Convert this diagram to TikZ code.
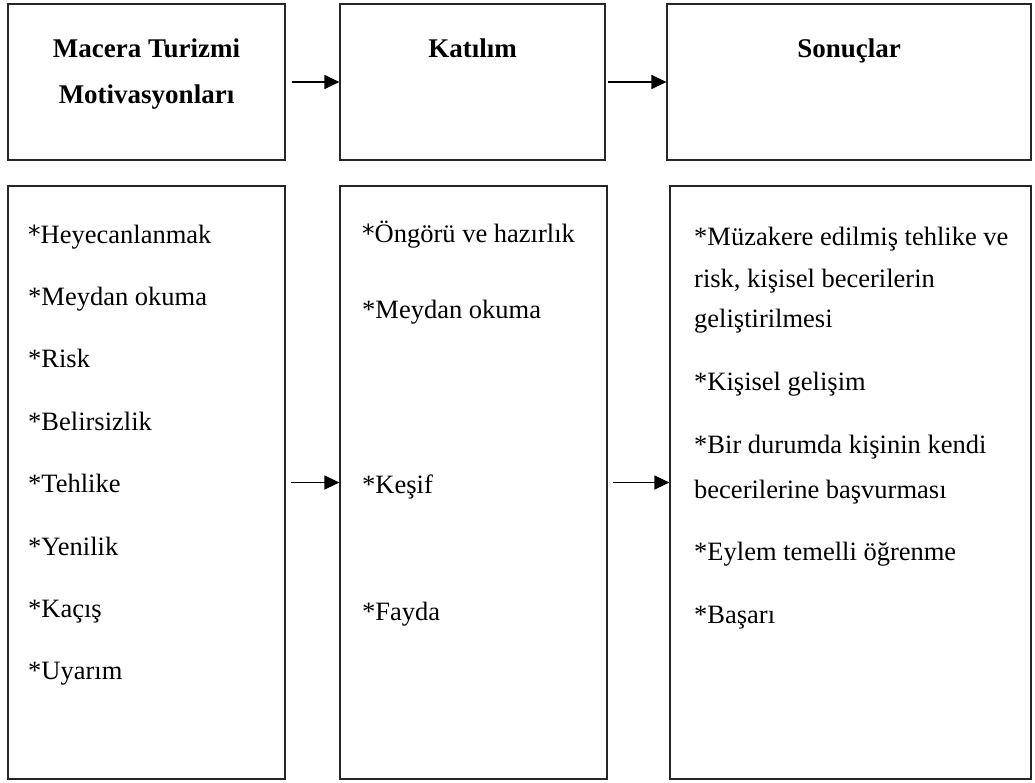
\documentclass[tikz,border=0pt]{standalone}
\usepackage{fontspec}
\setmainfont{Liberation Serif}
\newfontfamily\yildizfont{DejaVu Sans}
\newcommand{\yildiz}{{\yildizfont\fontsize{25}{30}\selectfont *}}
\usetikzlibrary{arrows.meta}
\tikzset{
  kutu/.style={draw=black!85, line width=1.2pt, inner sep=0pt},
  ok/.style={-{Triangle[length=15pt,width=14pt]}, line width=1.2pt},
  madde/.style={anchor=base west, inner sep=0pt, font=\fontsize{26.5}{30}\selectfont},
  baslik/.style={anchor=base, inner sep=0pt, font=\fontsize{27}{30}\selectfont\bfseries}
}
\begin{document}
\begin{tikzpicture}[x=1pt, y=-1pt]
    \useasboundingbox (0,0) rectangle (1035,782);
    % top row
    \node[kutu, minimum width=277pt, minimum height=156pt] (mot) at (146.5,82) {};
    \node[kutu, minimum width=265pt, minimum height=156pt] (kat) at (472.5,82) {};
    \node[kutu, minimum width=364pt, minimum height=156pt] (son) at (849,82) {};
    \node[baslik] (mot1) at (146.5,57) {Macera Turizmi};
    \node[baslik] (mot2) at (146.5,103) {Motivasyonları};
    \node[baslik] (kat1) at (472.5,57) {Katılım};
    \node[baslik] (son1) at (849,57) {Sonuçlar};
    \draw[ok, shorten <=6pt] (mot) -- (kat);
    \draw[ok, shorten <=2pt] (kat) -- (son);

    % bottom row
    \node[kutu, minimum width=277pt, minimum height=593pt] (motb) at (146.5,482.5) {};
    \node[kutu, minimum width=267pt, minimum height=593pt] (katb) at (473.5,482.5) {};
    \node[kutu, minimum width=361pt, minimum height=593pt] (sonb) at (850.5,482.5) {};
    \draw[ok, shorten <=5pt] (motb) -- (katb);
    \draw[ok, shorten <=5pt] (katb) -- (sonb);

    \node[madde] (sol1) at (28,243) {\yildiz Heyecanlanmak};
    \foreach \t [count=\i from 2] in {Meydan okuma, Risk, Belirsizlik, Tehlike, Yenilik, Kaçış, Uyarım}
        \node[madde] (sol\i) at (28,{243+62.4*(\i-1)}) {*\t};

    \node[madde] (orta1) at (362,242) {\yildiz Öngörü ve hazırlık};
    \foreach \t/\y [count=\i from 2] in {Meydan okuma/318, Keşif/493, Fayda/620}
        \node[madde] (orta\i) at (362,\y) {*\t};

    \foreach \t/\y [count=\i] in {*Müzakere edilmiş tehlike ve/245, {risk, kişisel becerilerin}/287,
        geliştirilmesi/327, *Kişisel gelişim/390, *Bir durumda kişinin kendi/453,
        becerilerine başvurması/498, *Eylem temelli öğrenme/560, *Başarı/623}
        \node[madde] (sag\i) at (694,\y) {\t};

\end{tikzpicture}
\end{document}
